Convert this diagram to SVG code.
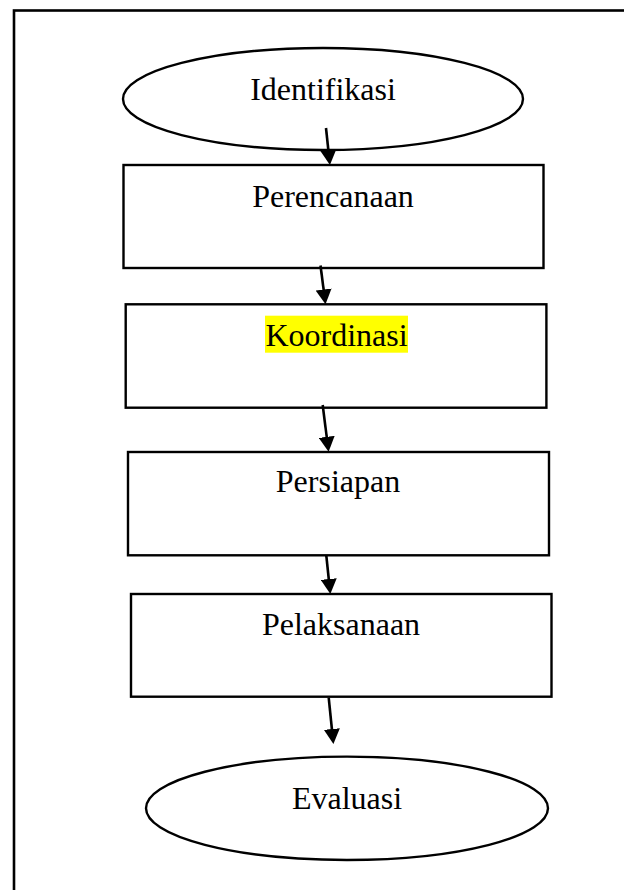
<svg xmlns="http://www.w3.org/2000/svg" width="624" height="890" viewBox="0 0 624 890">
<style>
.shape{fill:#fff;stroke:#000;stroke-width:2.4}
.lbl{font-family:"Liberation Serif","Times New Roman",serif;font-size:32px;fill:#000;text-anchor:middle}
.conn{stroke:#000;stroke-width:2.6;fill:none}
</style>
<defs>
<marker id="ah" markerUnits="userSpaceOnUse" viewBox="0 0 15 16" refX="7" refY="8" markerWidth="15" markerHeight="16" orient="auto">
<path d="M0,0 L15,8 L0,16 z" fill="#000"/>
</marker>
</defs>
<rect x="0" y="0" width="624" height="890" fill="#fff"/>
<rect id="frame" x="14" y="10.5" width="700" height="1000" fill="none" stroke="#000" stroke-width="2.6"/>
<g id="identifikasi">
<ellipse class="shape" cx="323" cy="99" rx="200" ry="51"/>
<text class="lbl" x="323" y="100">Identifikasi</text>
</g>
<g id="perencanaan">
<rect class="shape" x="123.5" y="165" width="420" height="103"/>
<text class="lbl" x="333" y="206.5">Perencanaan</text>
</g>
<g id="koordinasi">
<rect class="shape" x="125.7" y="304.3" width="420.7" height="103.4"/>
<rect x="265" y="315.7" width="143" height="37" fill="#ffff00"/>
<text class="lbl" x="336.5" y="345.7">Koordinasi</text>
</g>
<g id="persiapan">
<rect class="shape" x="128" y="452" width="421" height="103.3"/>
<text class="lbl" x="338" y="492">Persiapan</text>
</g>
<g id="pelaksanaan">
<rect class="shape" x="131" y="594" width="420.5" height="102.7"/>
<text class="lbl" x="341" y="635">Pelaksanaan</text>
</g>
<g id="evaluasi">
<ellipse class="shape" cx="347" cy="808.3" rx="201" ry="51.7"/>
<text class="lbl" x="347" y="809.3">Evaluasi</text>
</g>
<g id="connectors">
<path class="conn" d="M326,128 L329.1,157.1" marker-end="url(#ah)"/>
<path class="conn" d="M320.5,265.5 L324.5,296.4" marker-end="url(#ah)"/>
<path class="conn" d="M322.7,405 L327.6,443.8" marker-end="url(#ah)"/>
<path class="conn" d="M326.3,555.5 L329.5,586" marker-end="url(#ah)"/>
<path class="conn" d="M328.7,697.7 L332.6,736" marker-end="url(#ah)"/>
</g>
</svg>
